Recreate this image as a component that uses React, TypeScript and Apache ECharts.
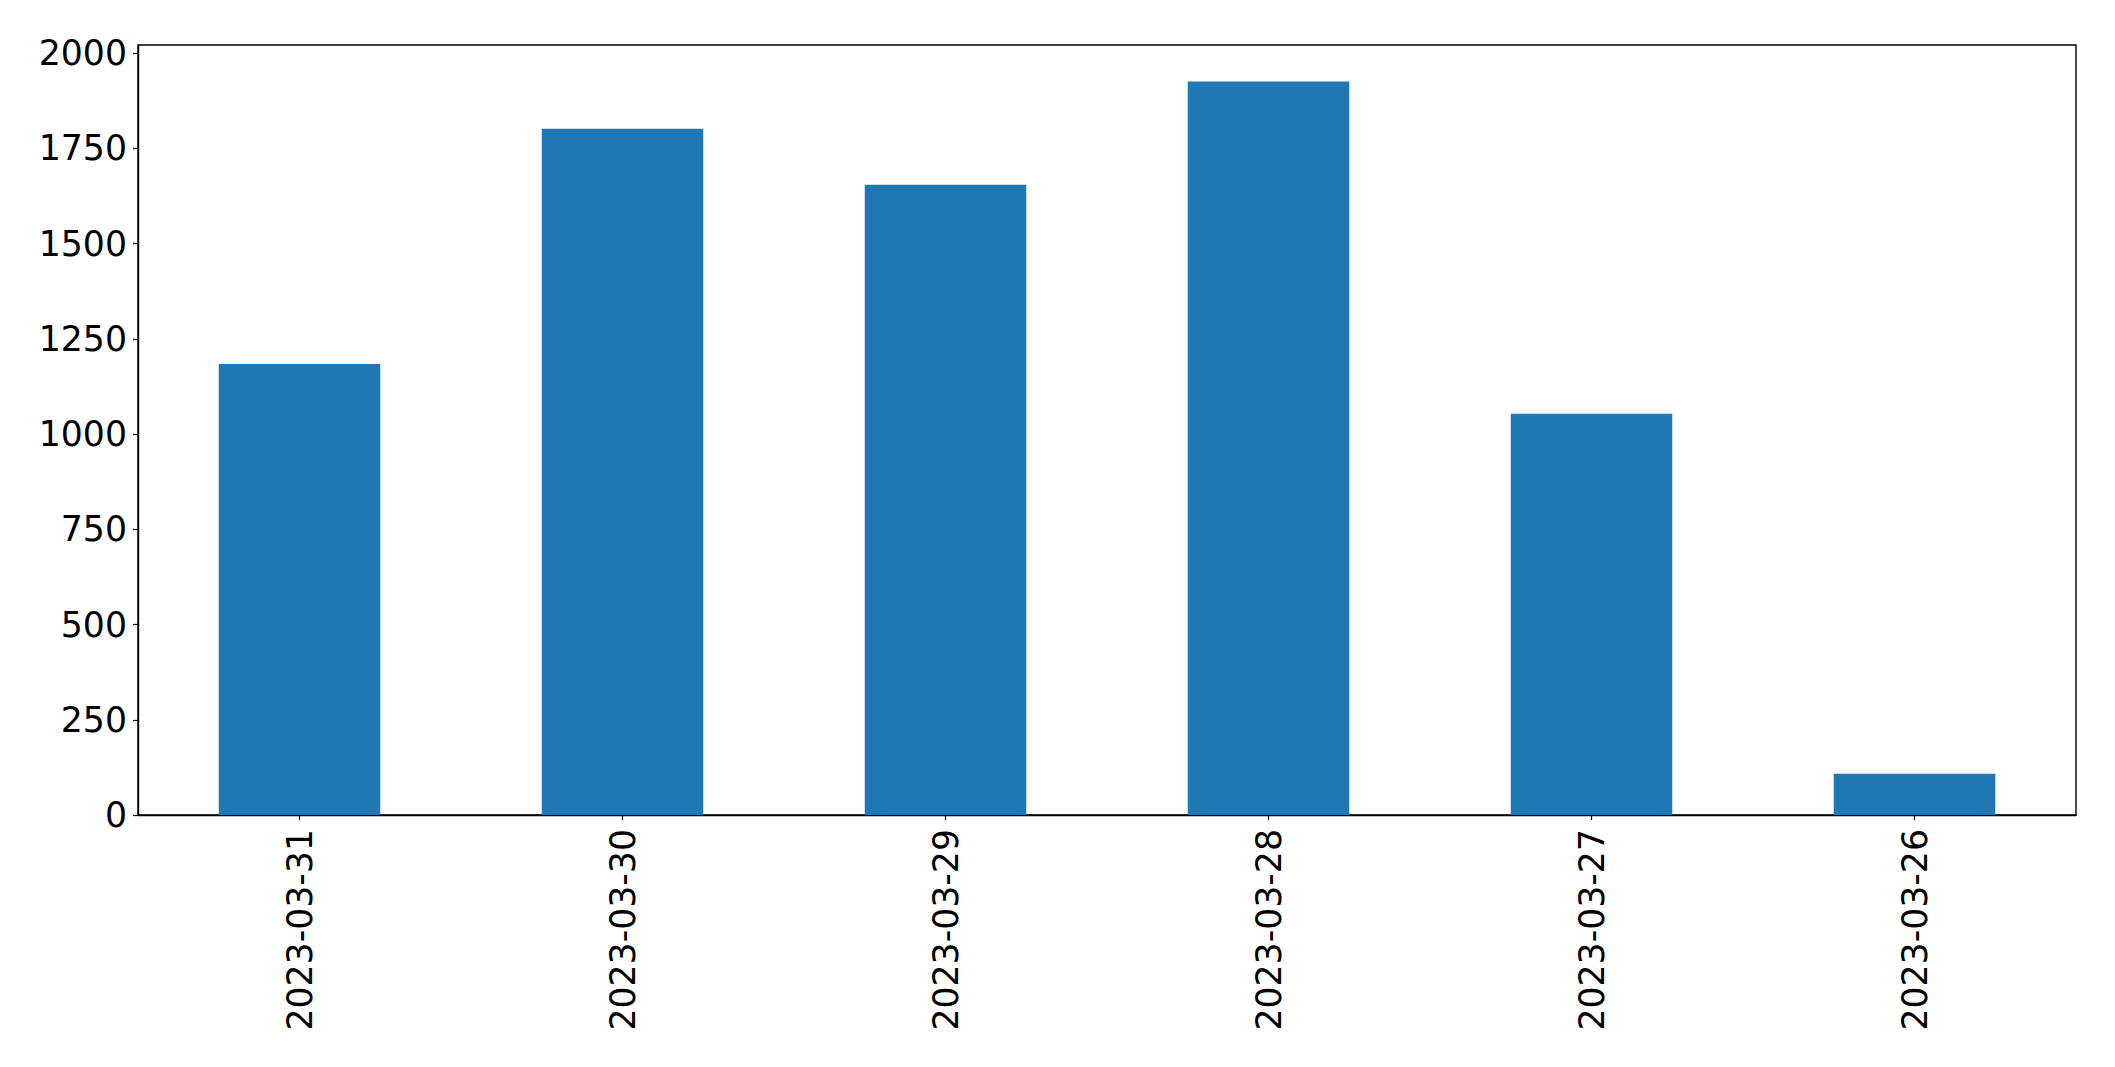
import React, { useEffect, useRef } from "react";
import * as echarts from "echarts";

const categories = ["2023-03-31", "2023-03-30", "2023-03-29", "2023-03-28", "2023-03-27", "2023-03-26"];
const values = [1184, 1801, 1654, 1925, 1053, 108];
const yTicks = [0, 250, 500, 750, 1000, 1250, 1500, 1750, 2000];

export default function App() {
  const ref = useRef<HTMLDivElement>(null);
  useEffect(() => {
    if (!ref.current) return;
    const chart = echarts.init(ref.current, null, { renderer: "svg" });
    const font = "DejaVu Sans";
    chart.setOption({
      animation: false,
      backgroundColor: "#ffffff",
      grid: {
        left: 138,
        right: 39,
        top: 45,
        bottom: 252,
        show: true,
        borderColor: "#000000",
        borderWidth: 1.4,
        containLabel: false,
      },
      xAxis: {
        type: "category",
        data: categories,
        boundaryGap: true,
        axisLine: { show: true, lineStyle: { color: "#000", width: 1.4 } },
        axisTick: { show: true, alignWithLabel: true, length: 5, lineStyle: { color: "#000", width: 1.2 } },
        axisLabel: {
          rotate: 90,
          margin: 14,
          color: "#000",
          fontSize: 34.7,
          fontFamily: font,
        },
        splitLine: { show: false },
      },
      yAxis: {
        type: "value",
        min: 0,
        max: 2021,
        interval: 250,
        axisLine: { show: true, lineStyle: { color: "#000", width: 1.4 } },
        axisTick: { show: true, length: 5, lineStyle: { color: "#000", width: 1.2 } },
        axisLabel: {
          margin: 11,
          color: "#000",
          fontSize: 34.7,
          fontFamily: font,
          showMaxLabel: false,
          formatter: (v: number) => (yTicks.includes(v) ? String(v) : ""),
        },
        splitLine: { show: false },
      },
      series: [
        {
          type: "bar",
          data: values,
          barWidth: "50%",
          itemStyle: { color: "#1f77b4" },
        },
      ],
    });
    return () => chart.dispose();
  }, []);
  return (
    <div
      ref={ref}
      style={{ position: "absolute", left: 0, top: 0, width: 2115, height: 1067 }}
    />
  );
}
